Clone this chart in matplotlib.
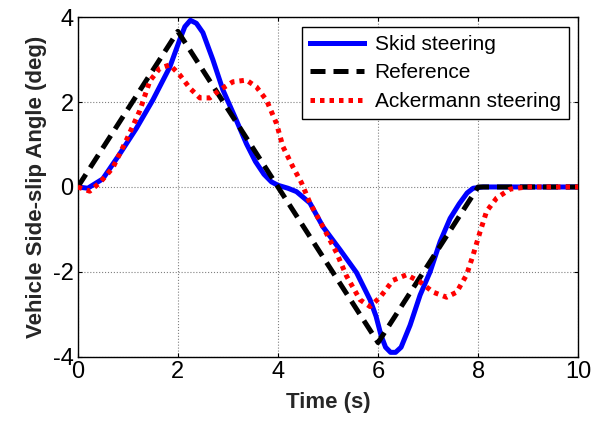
import numpy as np
import matplotlib
matplotlib.use('Agg')
import matplotlib.pyplot as plt

# values
t_ref = [0, 2, 6, 8, 10]
ref = [0, 3.67, -3.67, 0, 0]

t_skid = [0, 0.2, 0.5, 0.84, 1.17, 1.5, 1.84, 2.04, 2.14, 2.25, 2.37, 2.5, 2.7, 2.9,
          3.17, 3.37, 3.55, 3.72, 3.87, 4.0, 4.2, 4.37, 4.64, 4.9, 5.24, 5.57, 5.84, 5.96,
          6.06, 6.15, 6.25, 6.35, 6.46, 6.64, 6.84, 7.04, 7.24, 7.44, 7.62, 7.78, 7.9, 8.1, 10]
skid = [0, -0.03, 0.19, 0.78, 1.38, 2.05, 2.83, 3.48, 3.78, 3.93, 3.86, 3.64, 3.0, 2.29,
        1.57, 1.02, 0.6, 0.3, 0.12, 0.04, -0.03, -0.11, -0.38, -0.94, -1.48, -2.02, -2.66, -3.05,
        -3.5, -3.78, -3.9, -3.9, -3.78, -3.26, -2.55, -2.0, -1.29, -0.74, -0.4, -0.14, -0.03, 0, 0]

t_ack = [0, 0.24, 0.44, 0.7, 0.97, 1.24, 1.44, 1.64, 1.84, 2.04, 2.24, 2.44, 2.64, 2.84,
         3.1, 3.37, 3.57, 3.77, 3.97, 4.1, 4.3, 4.47, 4.64, 4.9, 5.17, 5.37, 5.64, 5.84,
         6.04, 6.3, 6.57, 6.84, 7.1, 7.37, 7.57, 7.77, 7.9, 8.04, 8.17, 8.37, 8.64, 8.97, 10]
ack = [0, -0.1, 0.1, 0.45, 1.1, 1.8, 2.5, 2.8, 2.88, 2.64, 2.33, 2.1, 2.1, 2.29,
       2.48, 2.52, 2.36, 2.05, 1.5, 0.95, 0.47, 0.1, -0.38, -0.94, -1.55, -2.1, -2.66, -2.82,
       -2.6, -2.2, -2.07, -2.24, -2.48, -2.6, -2.48, -2.07, -1.6, -1.05, -0.57, -0.26, -0.05, 0, 0]

xticks = [0, 2, 4, 6, 8, 10]
yticks = [-4, -2, 0, 2, 4]

plt.rcParams['font.family'] = ['Liberation Sans', 'DejaVu Sans']
plt.rcParams['axes.unicode_minus'] = False

fig = plt.figure(figsize=(5.98, 4.23), dpi=100)
ax = fig.add_axes([0.130, 0.157, 0.837, 0.802])

ax.plot(t_skid, skid, color='#0000ff', lw=3.6, label='Skid steering', zorder=3)
ax.plot(t_ref, ref, color='black', lw=3.6, ls=(0, (3, 1.6)), label='Reference', zorder=4)
ax.plot(t_ack, ack, color='#ff0000', lw=3.6, ls=(0, (0.9, 1.0)), label='Ackermann steering', zorder=5)

ax.set_xlim(0, 10)
ax.set_ylim(-4, 4)
ax.set_xticks(xticks)
ax.set_yticks(yticks)
ax.grid(True, color='#808080', ls=':', lw=0.8)
ax.tick_params(axis='both', which='both', direction='in', top=True, right=True,
               length=3, width=0.8, labelsize=17, pad=3)
for s in ax.spines.values():
    s.set_linewidth(1.0)

ax.set_xlabel('Time (s)', fontsize=16, fontweight='bold', color='#262626', labelpad=7)
ax.set_ylabel('Vehicle Side-slip Angle (deg)', fontsize=16, fontweight='bold', color='#262626', labelpad=4)

leg = ax.legend(loc='upper right', fontsize=15, fancybox=False, framealpha=1,
                edgecolor='black', handlelength=2.6, borderaxespad=0.45,
                labelspacing=0.45, handletextpad=0.5, borderpad=0.4)
leg.get_frame().set_linewidth(1.0)

fig.savefig('out.png', dpi=100)
